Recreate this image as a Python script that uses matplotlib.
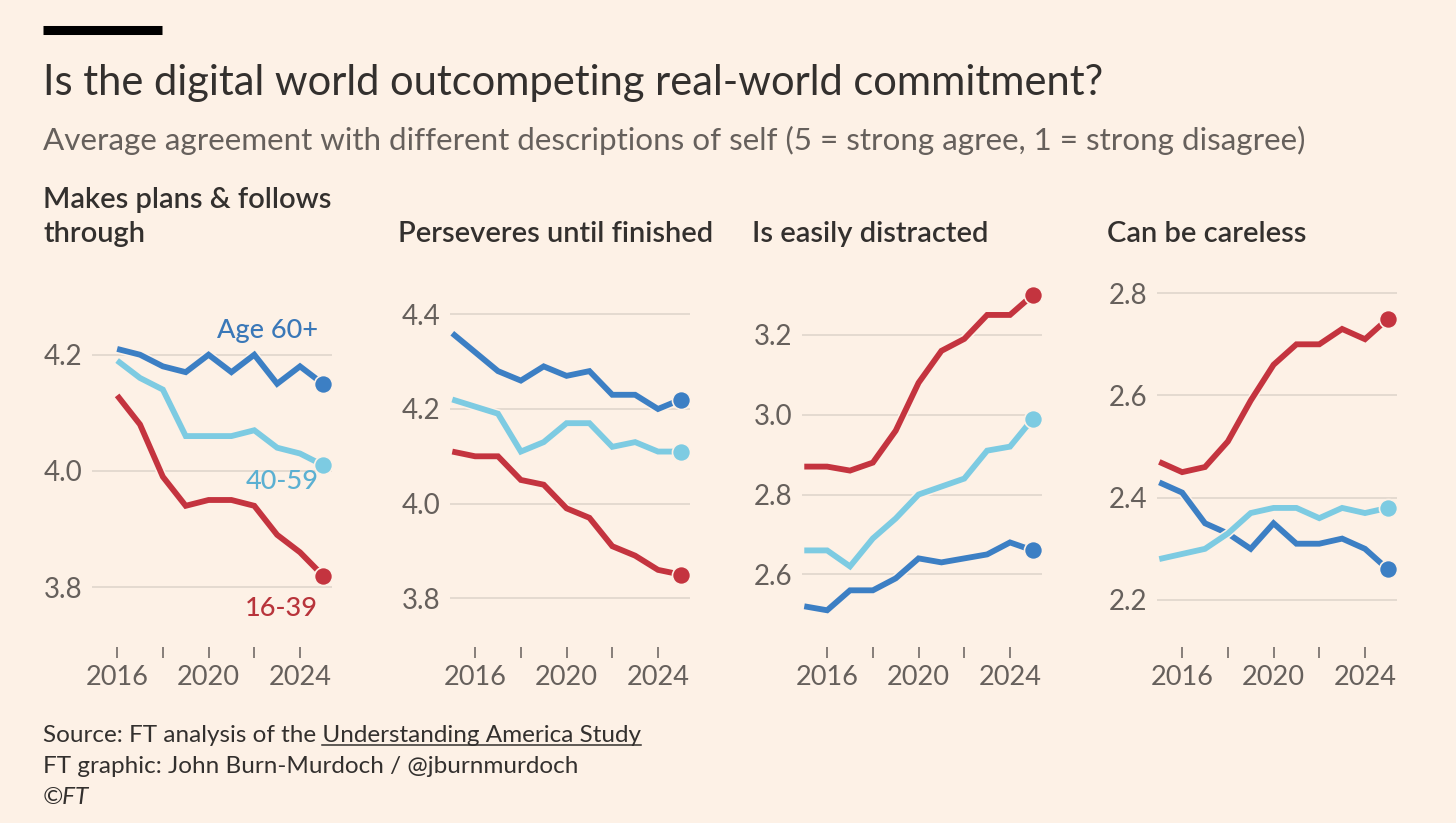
import matplotlib.pyplot as plt
import matplotlib.patheffects as pe
from matplotlib.lines import Line2D
from matplotlib.ticker import FormatStrFormatter

# ---- data ----
YEARS_P1 = list(range(2016, 2026))
YEARS = list(range(2015, 2026))

TITLES = ["Makes plans & follows\nthrough", "Perseveres until finished",
          "Is easily distracted", "Can be careless"]

plans_60 = [4.21, 4.20, 4.18, 4.17, 4.20, 4.17, 4.20, 4.15, 4.18, 4.15]
plans_40 = [4.19, 4.16, 4.14, 4.06, 4.06, 4.06, 4.07, 4.04, 4.03, 4.01]
plans_16 = [4.13, 4.08, 3.99, 3.94, 3.95, 3.95, 3.94, 3.89, 3.86, 3.82]

persev_60 = [4.36, 4.32, 4.28, 4.26, 4.29, 4.27, 4.28, 4.23, 4.23, 4.20, 4.22]
persev_40 = [4.22, 4.205, 4.19, 4.11, 4.13, 4.17, 4.17, 4.12, 4.13, 4.11, 4.11]
persev_16 = [4.11, 4.10, 4.10, 4.05, 4.04, 3.99, 3.97, 3.91, 3.89, 3.86, 3.85]

distr_60 = [2.52, 2.51, 2.56, 2.56, 2.59, 2.64, 2.63, 2.64, 2.65, 2.68, 2.66]
distr_40 = [2.66, 2.66, 2.62, 2.69, 2.74, 2.80, 2.82, 2.84, 2.91, 2.92, 2.99]
distr_16 = [2.87, 2.87, 2.86, 2.88, 2.96, 3.08, 3.16, 3.19, 3.25, 3.25, 3.30]

care_60 = [2.43, 2.41, 2.35, 2.33, 2.30, 2.35, 2.31, 2.31, 2.32, 2.30, 2.26]
care_40 = [2.28, 2.29, 2.30, 2.33, 2.37, 2.38, 2.38, 2.36, 2.38, 2.37, 2.38]
care_16 = [2.47, 2.45, 2.46, 2.51, 2.59, 2.66, 2.70, 2.70, 2.73, 2.71, 2.75]

Y_TICKS = [[3.8, 4.0, 4.2], [3.8, 4.0, 4.2, 4.4],
           [2.6, 2.8, 3.0, 3.2], [2.2, 2.4, 2.6, 2.8]]
X_TICKS = [2016, 2018, 2020, 2022, 2024]
X_LABELS = ["2016", "", "2020", "", "2024"]

# ---- styling ----
BG = '#FDF1E6'
INK = '#33302E'
GREY = '#66605C'
GRID = '#E4DAD0'
BLUE = '#3C7FC4'
LIGHT = '#7DCBE2'
RED = '#C4343F'

plt.rcParams['font.family'] = ['Lato', 'DejaVu Sans']

W, H = 1456, 823
fig = plt.figure(figsize=(W / 100, H / 100), dpi=100, facecolor=BG)

panels = [
    (YEARS_P1, plans_60, plans_40, plans_16, (3.697, 4.32)),
    (YEARS, persev_60, persev_40, persev_16, (3.697, 4.462)),
    (YEARS, distr_60, distr_40, distr_16, (2.418, 3.325)),
    (YEARS, care_60, care_40, care_16, (2.108, 2.816)),
]
ax_left_px = [92, 450, 802, 1157]
title_left_px = [43, 398, 752, 1107]
ax_w, ax_top, ax_bot = 240, 285, 647

halo = [pe.Stroke(linewidth=6.5, foreground=BG), pe.Normal()]

axes = []
for i, (yrs, s60, s40, s16, ylim) in enumerate(panels):
    ax = fig.add_axes([ax_left_px[i] / W, 1 - ax_bot / H,
                       ax_w / W, (ax_bot - ax_top) / H])
    ax.set_facecolor(BG)
    for sp in ax.spines.values():
        sp.set_visible(False)
    ax.set_xlim(2014.9, 2025.4)
    ax.set_ylim(*ylim)
    ax.set_yticks(Y_TICKS[i])
    ax.yaxis.set_major_formatter(FormatStrFormatter('%.1f'))
    ax.grid(axis='y', color=GRID, linewidth=1.4)
    ax.set_axisbelow(True)
    ax.set_xticks(X_TICKS)
    ax.set_xticklabels(X_LABELS)
    ax.tick_params(axis='x', direction='out', length=8, width=1.1,
                   color=GREY, pad=5, labelsize=19.5, labelcolor=GREY)
    ax.tick_params(axis='y', length=0, pad=7, labelsize=20, labelcolor=GREY)

    for series, col in ((s60, BLUE), (s40, LIGHT), (s16, RED)):
        ax.plot(yrs, series, color=col, lw=4.2, solid_joinstyle='miter',
                solid_capstyle='butt', path_effects=halo, zorder=3)
        ax.plot(yrs[-1], series[-1], 'o', color=col, ms=13,
                mec=BG, mew=1.2, zorder=4)
    axes.append(ax)

# series labels on the first panel
ax0 = axes[0]
ax0.text(2024.8, 4.241, "Age 60+", color='#3A78B8', fontsize=19.5,
         fontweight='medium', ha='right', va='center')
ax0.text(2024.8, 3.982, "40-59", color='#5BB0D2', fontsize=19.5,
         fontweight='medium', ha='right', va='center')
ax0.text(2024.8, 3.764, "16-39", color='#B8343B', fontsize=19.5,
         fontweight='medium', ha='right', va='center')

# panel titles
for i, t in enumerate(TITLES):
    lines = t.split('\n')
    base = 242 - 34 * (len(lines) - 1)
    for k, ln in enumerate(lines):
        fig.text(title_left_px[i] / W, 1 - (base + 34 * k) / H, ln,
                 fontsize=21, fontweight='semibold', color=INK,
                 va='baseline', ha='left')

# header
fig.add_artist(Line2D([43 / W, 162 / W], [1 - 29.5 / H, 1 - 29.5 / H],
                      color='black', lw=6.5, solid_capstyle='butt'))
fig.text(43 / W, 1 - 95 / H,
         "Is the digital world outcompeting real-world commitment?",
         fontsize=30, color=INK, va='baseline', ha='left')
fig.text(43 / W, 1 - 150 / H,
         "Average agreement with different descriptions of self "
         "(5 = strong agree, 1 = strong disagree)",
         fontsize=22.6, color=GREY, va='baseline', ha='left')

# footer
src = fig.text(43 / W, 1 - 742 / H,
               "Source: FT analysis of the Understanding America Study",
               fontsize=17.5, color=INK, va='baseline', ha='left')
fig.text(43 / W, 1 - 773 / H,
         "FT graphic: John Burn-Murdoch / @jburnmurdoch",
         fontsize=17.5, color=INK, va='baseline', ha='left')
fig.text(43 / W, 1 - 804 / H, "©FT", fontsize=17.5, color=INK,
         style='italic', va='baseline', ha='left')

# underline the linked part of the source line
fig.canvas.draw()
r = fig.canvas.get_renderer()
full = src.get_window_extent(r)
probe = fig.text(0, 0, "Understanding America Study", fontsize=17.5)
sub_w = probe.get_window_extent(r).width
probe.remove()
uy = (H - 742 - 3) / H
fig.add_artist(Line2D([(full.x1 - sub_w) / W, full.x1 / W], [uy, uy],
                      color=INK, lw=1.1))

fig.savefig('out.png', dpi=100, facecolor=BG)
